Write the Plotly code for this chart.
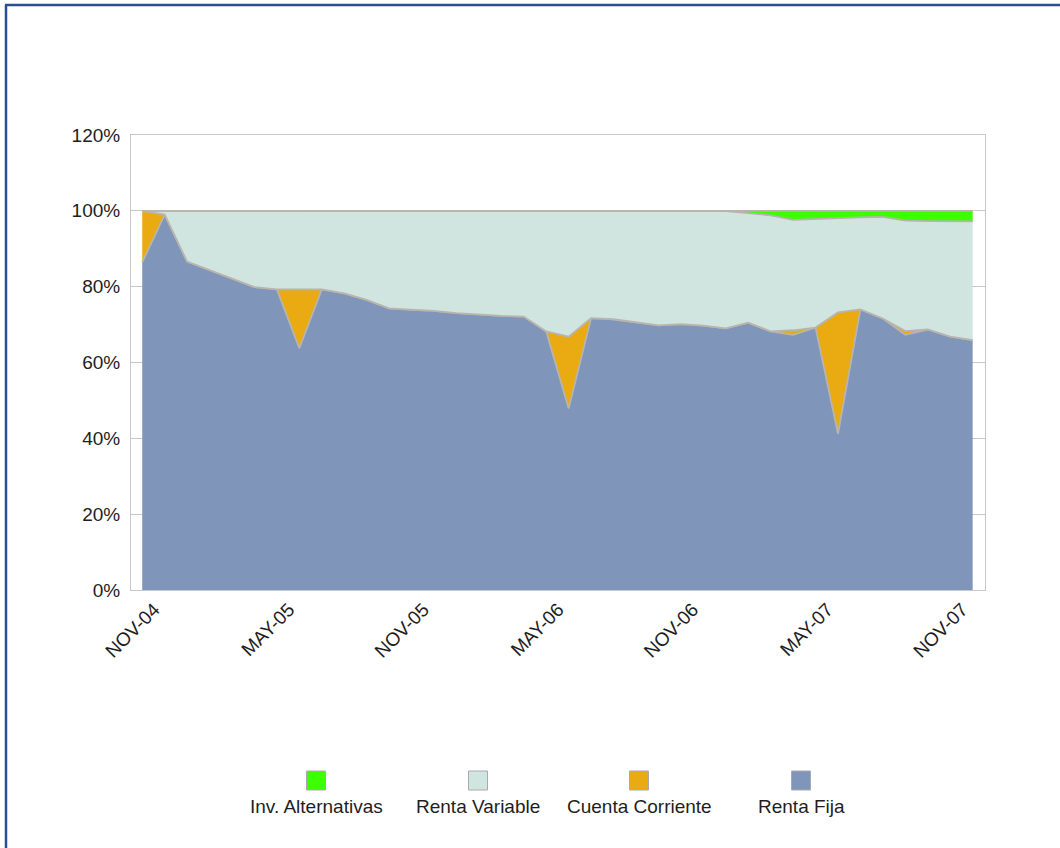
import plotly.graph_objects as go

# ---- data (percent of portfolio) ----
months = ["NOV-04", "DIC-04", "ENE-05", "FEB-05", "MAR-05", "ABR-05", "MAY-05", "JUN-05",
          "JUL-05", "AGO-05", "SEP-05", "OCT-05", "NOV-05", "DIC-05", "ENE-06", "FEB-06",
          "MAR-06", "ABR-06", "MAY-06", "JUN-06", "JUL-06", "AGO-06", "SEP-06", "OCT-06",
          "NOV-06", "DIC-06", "ENE-07", "FEB-07", "MAR-07", "ABR-07", "MAY-07", "JUN-07",
          "JUL-07", "AGO-07", "SEP-07", "OCT-07", "NOV-07", "DIC-07"]

renta_fija = [86.4, 99.0, 86.6, 84.3, 82.0, 79.9, 79.3, 63.8, 79.3, 78.2,
              76.5, 74.3, 73.9, 73.6, 73.0, 72.6, 72.3, 72.1, 68.2, 47.9,
              71.7, 71.4, 70.6, 69.8, 70.1, 69.7, 69.0, 70.5, 68.2, 67.3,
              69.2, 41.2, 74.0, 71.6, 67.3, 68.7, 66.8, 65.9]

cuenta_corriente = [13.6, 0, 0, 0, 0, 0, 0, 15.5, 0, 0,
                    0, 0, 0, 0, 0, 0, 0, 0, 0, 18.9,
                    0, 0, 0, 0, 0, 0, 0, 0, 0, 1.2,
                    0, 32.0, 0, 0, 1.0, 0, 0, 0]

inv_alternativas = [0, 0, 0, 0, 0, 0, 0, 0, 0, 0,
                    0, 0, 0, 0, 0, 0, 0, 0, 0, 0,
                    0, 0, 0, 0, 0, 0, 0.1, 0.6, 1.2, 2.4,
                    2.1, 1.9, 1.7, 1.6, 2.6, 2.7, 2.7, 2.8]

renta_variable = [round(100 - a - b - c, 2) for a, b, c in
                  zip(renta_fija, cuenta_corriente, inv_alternativas)]

tick_idx = list(range(0, 37, 6))
tick_vals = [months[i] for i in tick_idx]
y_ticks = [0, 20, 40, 60, 80, 100, 120]
y_tick_text = [f"{v}%" for v in y_ticks]

# ---- styling ----
FONT = "Liberation Sans, Arial, sans-serif"
FS = 19
TXT = "#1e1e1e"
OUTLINE = "#b8b4ae"
colors = {
    "Renta Fija": "#7f96ba",
    "Cuenta Corriente": "#eaaa12",
    "Renta Variable": "#d1e5e0",
    "Inv. Alternativas": "#3cff00",
}

W, H = 1060, 848
L, R, T, B = 131, 75, 135, 258
PW, PH = W - L - R, H - T - B


def px(x):
    return (x - L) / PW


def py(y):
    return (H - B - y) / PH


fig = go.Figure()
series = [("Renta Fija", renta_fija), ("Cuenta Corriente", cuenta_corriente),
          ("Renta Variable", renta_variable), ("Inv. Alternativas", inv_alternativas)]
for name, vals in series:
    fig.add_trace(go.Scatter(
        x=months, y=vals, name=name, mode="lines", stackgroup="one",
        line=dict(color=OUTLINE, width=1.8), fillcolor=colors[name],
        showlegend=False,
    ))

# ---- custom legend (square above text) ----
shapes = []
annotations = []
legend_items = [("Inv. Alternativas", 316), ("Renta Variable", 478),
                ("Cuenta Corriente", 639), ("Renta Fija", 801)]
for name, cx in legend_items:
    shapes.append(dict(type="rect", xref="paper", yref="paper",
                       x0=px(cx - 9.5), x1=px(cx + 9.5), y0=py(790), y1=py(771),
                       fillcolor=colors[name], line=dict(color="#aaaaaa", width=1)))
    annotations.append(dict(text=name, xref="paper", yref="paper", x=px(cx), y=py(806),
                            xanchor="center", yanchor="middle", showarrow=False,
                            font=dict(family=FONT, size=FS, color=TXT)))

# outer frame (left and top)
shapes.append(dict(type="line", xref="paper", yref="paper", x0=px(6), x1=px(6),
                   y0=py(5), y1=py(848), line=dict(color="#2a4f8e", width=2.5)))
shapes.append(dict(type="line", xref="paper", yref="paper", x0=px(5), x1=px(1060),
                   y0=py(5), y1=py(5), line=dict(color="#2a4f8e", width=2.5)))

fig.update_layout(
    width=W, height=H, autosize=False,
    margin=dict(l=L, r=R, t=T, b=B),
    paper_bgcolor="white", plot_bgcolor="white",
    font=dict(family=FONT, size=FS, color=TXT),
    shapes=shapes, annotations=annotations,
    xaxis=dict(type="category", range=[-0.5, 37.55], tickmode="array",
               tickvals=tick_vals, ticktext=tick_vals, tickangle=-45,
               ticklabelshift=12,
               showgrid=False, showline=True, linecolor="#c8c8c8", linewidth=1,
               mirror=True, ticks="", tickfont=dict(size=FS), zeroline=False),
    yaxis=dict(range=[0, 120], tickmode="array", tickvals=y_ticks, ticktext=y_tick_text,
               showgrid=True, gridcolor="#c8c8c8", gridwidth=1,
               showline=True, linecolor="#c8c8c8", linewidth=1, mirror=True,
               ticks="", ticklabelstandoff=6, tickfont=dict(size=FS), zeroline=False),
)

fig.write_html("out.html", config={"displayModeBar": False},
               post_script="document.body.style.margin='0';")
